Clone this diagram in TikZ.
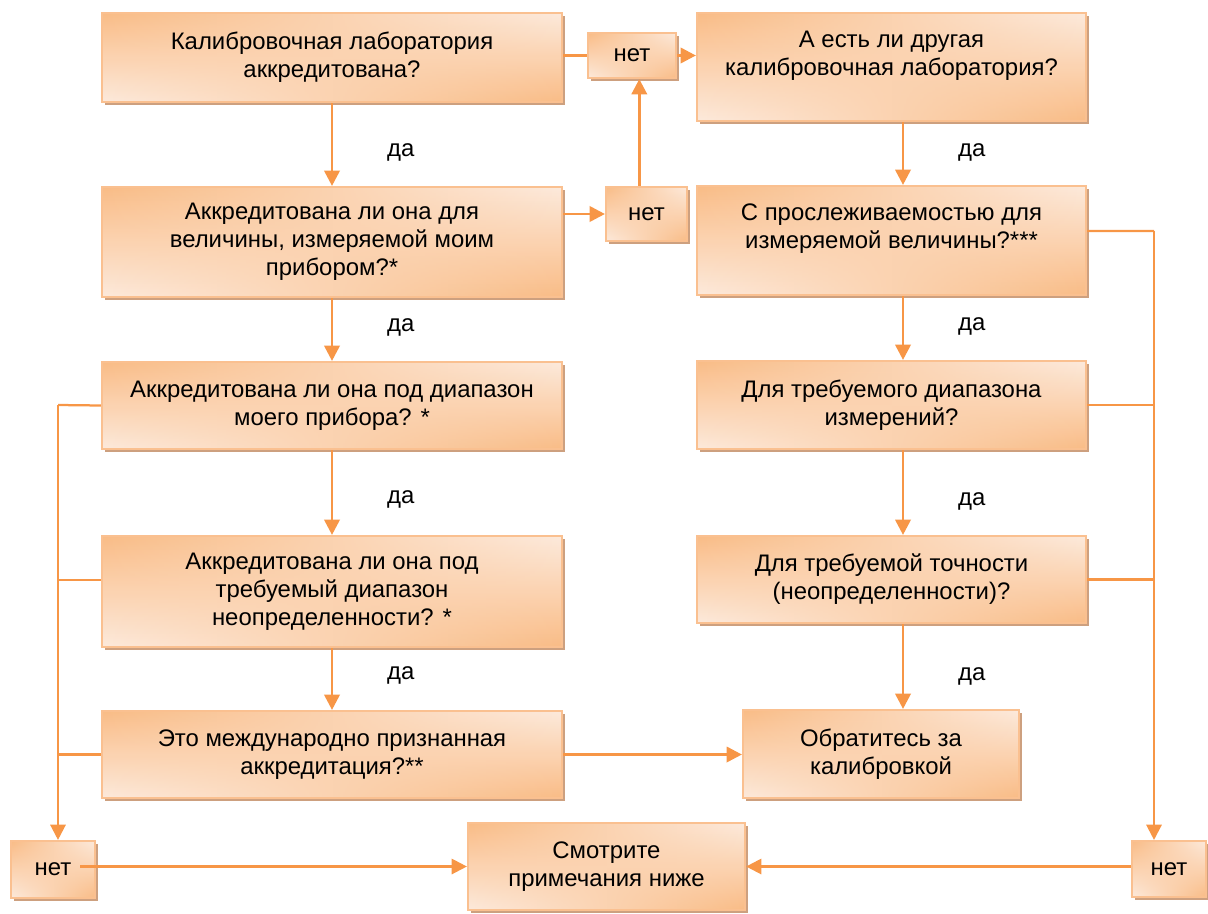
\documentclass[tikz,border=0pt]{standalone}
\usepackage{fontspec}
\setmainfont{Liberation Sans}
\usetikzlibrary{shadows, arrows.meta, fadings}
\definecolor{lineor}{HTML}{F79646}
\definecolor{boxrim}{HTML}{FAC090}
\definecolor{boxlight}{HTML}{FDEADC}
\definecolor{boxdark}{HTML}{F9BC86}
\definecolor{shadowbr}{HTML}{CDA07F}

\begin{document}
\begin{tikzpicture}[x=0.025cm, y=-0.025cm,
        box/.style = {draw=boxrim, line width=1.5pt, align=center, inner sep=0pt,
            font=\fontsize{17}{20}\selectfont,
            drop shadow={shadow xshift=0.08cm, shadow yshift=-0.08cm, fill=shadowbr, opacity=1},
            path picture={
                \shade[top color=boxlight, bottom color=boxdark]
                    (path picture bounding box.south west) rectangle (path picture bounding box.north east);
                \shade[top color=boxdark, bottom color=boxlight, path fading=east]
                    (path picture bounding box.south west) rectangle (path picture bounding box.north east);
            }},
        wide/.style = {box, minimum width=11.5cm},
        rwide/.style = {box, minimum width=9.725cm},
        netbox/.style = {box},
        arr/.style = {draw=lineor, line width=2pt, -{Triangle[length=0.38cm, width=0.38cm]}},
        thin/.style = {draw=lineor, line width=1.6pt},
        thinarr/.style = {thin, -{Triangle[length=0.38cm, width=0.38cm]}},
        dalabel/.style = {xshift=1.72cm, font=\fontsize{17}{20}\selectfont, text=black}]
    \useasboundingbox (0,0) rectangle (1208,913);

    % left column
    \node[wide, minimum height=2.225cm] (B1) at (332,57.5) {Калибровочная лаборатория\\аккредитована?};
    \node[wide, minimum height=2.75cm] (B3) at (332,242) {Аккредитована ли она для\\величины, измеряемой моим\\прибором?*};
    \node[wide, minimum height=2.175cm] (B5) at (332,405.5) {Аккредитована ли она под диапазон\\моего прибора? *};
    \node[wide, minimum height=2.775cm] (B7) at (332,591.5) {Аккредитована ли она под\\требуемый диапазон\\неопределенности? *};
    \node[wide, minimum height=2.175cm] (B9) at (332,754.5) {Это международно признанная\\аккредитация?**};

    % right column
    \node[rwide, minimum height=2.7cm, text depth=0.7cm] (B2) at (891.5,67) {А есть ли другая\\калибровочная лаборатория?};
    \node[rwide, minimum height=2.725cm, text depth=0.7cm] (B4) at (891.5,240.5) {С прослеживаемостью для\\измеряемой величины?***};
    \node[rwide, minimum height=2.2cm] (B6) at (891.5,405) {Для требуемого диапазона\\измерений?};
    \node[rwide, minimum height=2.175cm] (B8) at (891.5,579.5) {Для требуемой точности\\(неопределенности)?};
    \node[box, minimum width=6.9cm, minimum height=2.2cm] (B10) at (881,754) {Обратитесь за\\калибровкой};
    \node[box, minimum width=6.925cm, minimum height=2.175cm] (B11) at (606.5,866.5) {Смотрите\\примечания ниже};

    % "no" boxes
    \node[netbox, minimum width=2.2cm, minimum height=1.125cm] (net1) at (632,55.5) {нет};
    \node[netbox, minimum width=2.025cm, minimum height=1.35cm] (net2) at (646.5,214) {нет};
    \node[netbox, minimum width=2.1cm, minimum height=1.425cm] (net3) at (53,869.5) {нет};
    \node[netbox, minimum width=1.85cm, minimum height=1.4cm] (net4) at (1169,869) {нет};

    \coordinate (rcol) at (903,0);
    \coordinate (lbus) at (58,405);
    \coordinate (rbus) at (1154,231);

    % yes arrows
    \draw[arr] (B1) -- (B3) node[dalabel, pos=.59] {да};
    \draw[arr] (B3) -- (B5) node[dalabel, pos=.46] {да};
    \draw[arr] (B5) -- (B7) node[dalabel, pos=.58] {да};
    \draw[arr] (B7) -- (B9) node[dalabel, pos=.45] {да};
    \draw[arr] (B2.south -| rcol) -- (B4.north -| rcol) node[dalabel, pos=.48] {да};
    \draw[arr] (B4.south -| rcol) -- (B6.north -| rcol) node[dalabel, pos=.48] {да};
    \draw[arr] (B6.south -| rcol) -- (B8.north -| rcol) node[dalabel, pos=.6] {да};
    \draw[arr] (B8.south -| rcol) -- (B10.north -| rcol) node[dalabel, pos=.62] {да};
    \draw[arr] (B9.east) -- (B9.east -| B10.west);

    % no arrows, top
    \draw[thin] (B1.east |- net1.west) -- (net1.west);
    \draw[arr] (net1.east) -- (net1.east -| B2.west);
    \draw[arr] (net2.west -| B3.east) -- (net2.west);
    \draw[arr] ([xshift=-0.18cm]net2.north) -- ([xshift=-0.18cm]net2.north |- net1.south);

    % left bus
    \draw[thin] (B5.west) -- (lbus);
    \draw[thin] ([yshift=0.28cm]B7.west) -- ([yshift=0.28cm]B7.west -| lbus);
    \draw[thin] (B9.west) -- (B9.west -| lbus);
    \draw[thinarr] (lbus) -- (lbus |- net3.north);
    \draw[thinarr] ([xshift=-0.4cm]net3.east |- B11.west) -- (B11.west);

    % right bus
    \draw[thin] ([yshift=0.24cm]B4.east) -- (rbus);
    \draw[thin] (B6.east) -- (B6.east -| rbus);
    \draw[thin] (B8.east) -- (B8.east -| rbus);
    \draw[thinarr] (rbus) -- (rbus |- net4.north);
    \draw[thinarr] (net4.west |- B11.east) -- (B11.east);
\end{tikzpicture}
\end{document}
